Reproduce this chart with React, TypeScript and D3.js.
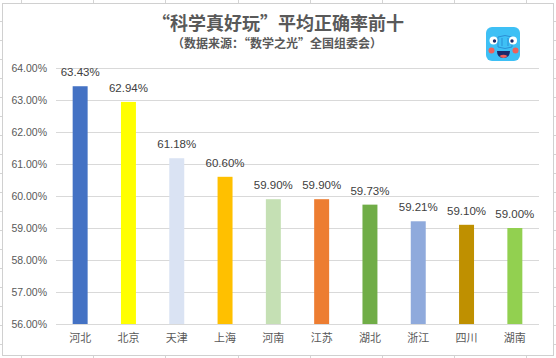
import React from "react";
import * as d3 from "d3";

const categories = ["河北", "北京", "天津", "上海", "河南", "江苏", "湖北", "浙江", "四川", "湖南"];
const values = [63.43, 62.94, 61.18, 60.6, 59.9, 59.9, 59.73, 59.21, 59.1, 59.0];
const barColors = ["#4472C4", "#FFFF00", "#DAE3F3", "#FFC000", "#C5E0B4", "#ED7D31", "#70AD47", "#8FAADC", "#BF9000", "#92D050"];
const yTicks = [56, 57, 58, 59, 60, 61, 62, 63, 64];
const title = "“科学真好玩”平均正确率前十";
const subtitle = "（数据来源：“数学之光”全国组委会）";

const W = 556;
const H = 358;

export default function App() {
  const x = d3.scaleBand<string>().domain(categories).range([56, 539]).paddingInner(0.69).paddingOuter(0.345);
  const y = d3.scaleLinear().domain([56, 64]).range([324, 68]);
  const fmt = (v: number) => v.toFixed(2) + "%";

  const colLines = d3.range(8).map((i) => 21 + i * 72.2);
  const rowLines = d3.range(18).map((i) => 21 + i * 19);

  return (
    <svg width={W} height={H} style={{ position: "absolute", left: 0, top: 0, background: "#fff" }}>
      {/* spreadsheet grid stubs */}
      {colLines.map((cx, i) => (
        <g key={"c" + i} stroke="#d4d4d4" strokeWidth={1}>
          <line x1={Math.round(cx) + 0.5} x2={Math.round(cx) + 0.5} y1={0} y2={3} />
          <line x1={Math.round(cx) + 0.5} x2={Math.round(cx) + 0.5} y1={356} y2={358} />
        </g>
      ))}
      {rowLines.map((ry, i) => (
        <g key={"r" + i} stroke="#d4d4d4" strokeWidth={1}>
          <line x1={0} x2={2} y1={Math.round(ry) + 0.5} y2={Math.round(ry) + 0.5} />
          <line x1={554} x2={556} y1={Math.round(ry) + 0.5} y2={Math.round(ry) + 0.5} />
        </g>
      ))}
      {/* chart border */}
      <rect x={2.5} y={3.5} width={551} height={352} fill="#fff" stroke="#d0d0d0" strokeWidth={1} />

      {/* title */}
      <text x={278} y={30} textAnchor="middle" fontFamily="'Noto Sans CJK SC', sans-serif" fontSize={18} fontWeight="bold" fill="#595959">
        {title}
      </text>
      <text x={277} y={48} textAnchor="middle" fontFamily="'Noto Sans CJK SC', sans-serif" fontSize={12} fontWeight="bold" fill="#595959">
        {subtitle}
      </text>

      {/* gridlines */}
      {yTicks.map((t) => (
        <line key={t} x1={56} x2={539} y1={Math.round(y(t)) + 0.5} y2={Math.round(y(t)) + 0.5} stroke="#d9d9d9" strokeWidth={1} />
      ))}
      {/* y labels */}
      {yTicks.map((t) => (
        <text key={"l" + t} x={47} y={y(t) + 4} textAnchor="end" fontFamily="'Liberation Sans', Arial, sans-serif" fontSize={10.5} fill="#595959">
          {fmt(t)}
        </text>
      ))}

      {/* bars */}
      {categories.map((c, i) => (
        <rect key={c} x={x(c)} y={y(values[i])} width={x.bandwidth()} height={y(56) - y(values[i])} fill={barColors[i]} />
      ))}
      {/* axis line */}
      <line x1={56} x2={539} y1={Math.round(y(56)) + 0.5} y2={Math.round(y(56)) + 0.5} stroke="#d9d9d9" strokeWidth={1} />

      {/* value labels */}
      {categories.map((c, i) => (
        <text key={"v" + c} x={(x(c) as number) + x.bandwidth() / 2} y={y(values[i]) - 10} textAnchor="middle" fontFamily="'Liberation Sans', Arial, sans-serif" fontSize={11.5} fill="#404040">
          {fmt(values[i])}
        </text>
      ))}
      {/* category labels */}
      {categories.map((c) => (
        <text key={"x" + c} x={(x(c) as number) + x.bandwidth() / 2} y={342} textAnchor="middle" fontFamily="'Noto Sans CJK SC', sans-serif" fontSize={11} fill="#595959">
          {c}
        </text>
      ))}

      {/* icon */}
      <g>
        <rect x={486} y={27} width={34} height={34} rx={6} fill="#3EC0F5" />
        <path d="M498,37 Q505,34 512,37 L512,47 Q505,50 498,47 Z" fill="none" stroke="#2B8FD6" strokeWidth={1} />
        <line x1={502} x2={502} y1={38} y2={46} stroke="#2B8FD6" strokeWidth={1} />
        <line x1={508} x2={508} y1={38} y2={46} stroke="#2B8FD6" strokeWidth={1} />
        <circle cx={493.5} cy={40.5} r={4} fill="#fff" />
        <circle cx={513} cy={40.5} r={4} fill="#fff" />
        <circle cx={494.5} cy={41} r={1.7} fill="#1B2A6B" />
        <circle cx={512} cy={41} r={1.7} fill="#1B2A6B" />
        <circle cx={491.5} cy={50.5} r={3} fill="#F0605A" />
        <circle cx={515.5} cy={50.5} r={3} fill="#F0605A" />
        <path d="M497,51 L510,51 Q510,58 503.5,58 Q497,58 497,51 Z" fill="#1B2A6B" />
        <path d="M499.5,56 Q503.5,53.5 507.5,56 Q505.5,58 503.5,58 Q501.5,58 499.5,56 Z" fill="#F0605A" />
      </g>
    </svg>
  );
}
